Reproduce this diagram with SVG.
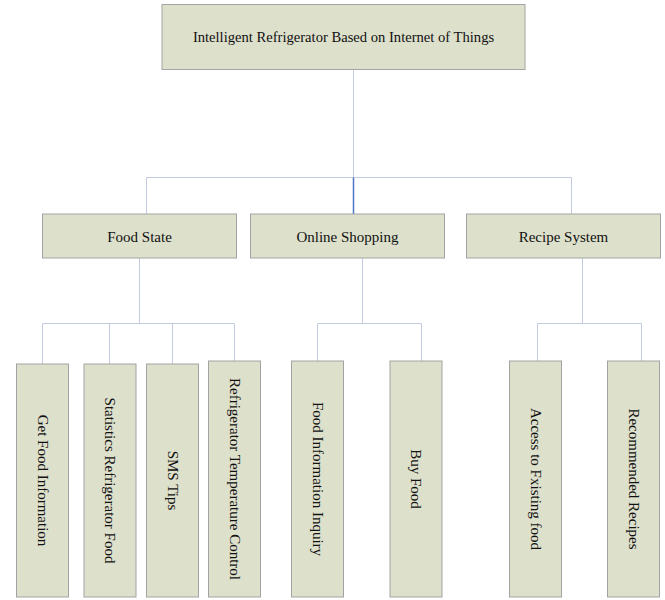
<svg xmlns="http://www.w3.org/2000/svg" width="665" height="600" viewBox="0 0 665 600">
<defs>
<style>
.box{fill:#dde0cb;stroke:#a3a3a3;stroke-width:1}
.t{font-family:"Liberation Serif","Times New Roman",serif;font-size:15px;fill:#111;text-anchor:middle}
.c{fill:none;stroke:#c3cbe2;stroke-width:1}
.cd{fill:none;stroke:#4a76c6;stroke-width:1.5}
</style>
</defs>
<rect width="665" height="600" fill="#fff"/>
<g id="connectors">
<path class="c" d="M353.5 69.5V177.5M146.5 177.5H571.5M146.5 177.5V214M571.5 177.5V214"/>
<path class="cd" d="M353.5 177.5V214"/>
<path class="c" d="M139.5 258V323.5M42.5 323.5H234.5M42.5 323.5V364M109.5 323.5V364M172.5 323.5V364M234.5 323.5V361"/>
<path class="c" d="M362.5 258V323.5M317.5 323.5H421.5M317.5 323.5V361M421.5 323.5V361"/>
<path class="c" d="M582.5 258V323.5M537.5 323.5H641.5M537.5 323.5V361M641.5 323.5V361"/>
</g>
<g id="root">
<rect class="box" x="162" y="4.5" width="363" height="65"/>
<text class="t" x="343.5" y="42" style="font-size:14.6px">Intelligent Refrigerator Based on Internet of Things</text>
</g>
<g id="food-state">
<rect class="box" x="42.5" y="214" width="194" height="44"/>
<text class="t" x="139.5" y="241.5">Food State</text>
</g>
<g id="online-shopping">
<rect class="box" x="250.5" y="214" width="194" height="44"/>
<text class="t" x="347.5" y="241.5">Online Shopping</text>
</g>
<g id="recipe-system">
<rect class="box" x="466.5" y="214" width="194" height="44"/>
<text class="t" x="563.5" y="241.5">Recipe System</text>
</g>
<g id="get-food-information">
<rect class="box" x="16.5" y="364" width="52" height="233"/>
<text class="t" transform="translate(42.5 480.5) rotate(90)" dy="5">Get Food Information</text>
</g>
<g id="statistics-refrigerator-food">
<rect class="box" x="84" y="364" width="52" height="233"/>
<text class="t" transform="translate(110 480.5) rotate(90)" dy="5">Statistics Refrigerator Food</text>
</g>
<g id="sms-tips">
<rect class="box" x="146.5" y="364" width="52" height="233"/>
<text class="t" transform="translate(172.5 480.5) rotate(90)" dy="5">SMS Tips</text>
</g>
<g id="refrigerator-temperature-control">
<rect class="box" x="208.5" y="361" width="52" height="236"/>
<text class="t" transform="translate(234.5 479) rotate(90)" dy="5">Refrigerator Temperature Control</text>
</g>
<g id="food-information-inquiry">
<rect class="box" x="291.5" y="361" width="52" height="236"/>
<text class="t" transform="translate(317.5 479) rotate(90)" dy="5">Food Information Inquiry</text>
</g>
<g id="buy-food">
<rect class="box" x="390" y="361" width="52" height="236"/>
<text class="t" transform="translate(416 479) rotate(90)" dy="5">Buy Food</text>
</g>
<g id="access-existing-food">
<rect class="box" x="509.5" y="361" width="52" height="236"/>
<text class="t" transform="translate(535.5 479) rotate(90)" dy="5">Access to Fxisting food</text>
</g>
<g id="recommended-recipes">
<rect class="box" x="607.5" y="361" width="52" height="236"/>
<text class="t" transform="translate(633.5 479) rotate(90)" dy="5">Recommended Recipes</text>
</g>
</svg>
